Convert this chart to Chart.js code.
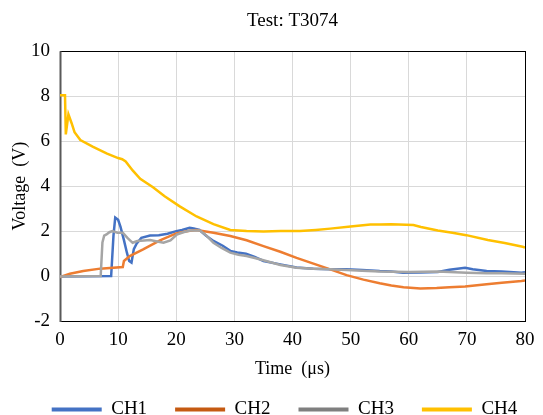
<!DOCTYPE html>
<html>
<head>
<meta charset="utf-8">
<script src="https://cdn.jsdelivr.net/npm/chart.js@4/dist/chart.umd.min.js"></script>
<style>
html,body{margin:0;padding:0;background:#fff;}
#wrap{width:543px;height:415px;position:relative;}
</style>
</head>
<body>
<div id="wrap"><canvas id="c" width="543" height="415"></canvas></div>
<script>
const chartTitle = 'Test: T3074';
const seriesNames = ['CH1', 'CH2', 'CH3', 'CH4'];
const lineColors = ['#4472C4', '#ED7D31', '#A5A5A5', '#FFC000'];
const legendColors = ['#4472C4', '#C55A11', '#7F7F7F', '#FFC000'];

const ch1Time = [0, 8.8, 9.2, 9.5, 10, 10.4, 11, 11.5, 11.9, 12.3, 12.7, 13.2, 14, 15.5, 17, 18.5, 20, 21, 22.3, 23, 24, 25.2, 26.4, 28, 29.3, 30.5, 32, 33.5, 35, 37.9, 40.7, 43.6, 46.5, 49.3, 52, 55, 57, 59, 62, 65, 67, 69.7, 71, 73.4, 76, 79.4, 80];
const ch1Volt = [-0.02, 0, 1.8, 2.6, 2.5, 2.2, 1.6, 1.05, 0.67, 0.6, 1.2, 1.45, 1.7, 1.8, 1.82, 1.88, 2.0, 2.05, 2.15, 2.12, 2.05, 1.78, 1.56, 1.35, 1.12, 1.05, 0.99, 0.85, 0.67, 0.52, 0.38, 0.33, 0.3, 0.3, 0.27, 0.22, 0.2, 0.15, 0.16, 0.18, 0.28, 0.37, 0.3, 0.22, 0.2, 0.15, 0.17];

const ch2Time = [0, 1.7, 4, 6.9, 10.8, 11.0, 12, 14.3, 17.2, 20, 22, 23.5, 26.4, 29.3, 32.1, 35, 37.9, 40.7, 43.6, 46.5, 49.3, 52.2, 55, 57, 59.1, 62, 64.8, 67, 69.7, 73.4, 76, 79.4, 80];
const ch2Volt = [-0.04, 0.1, 0.22, 0.33, 0.4, 0.67, 0.89, 1.19, 1.59, 1.9, 2.0, 2.05, 1.93, 1.78, 1.59, 1.33, 1.08, 0.81, 0.55, 0.3, 0.04, -0.16, -0.32, -0.42, -0.5, -0.55, -0.53, -0.5, -0.47, -0.37, -0.3, -0.22, -0.2];

const ch3Time = [0, 7.0, 7.3, 7.6, 8.0, 8.5, 9.0, 9.9, 10.8, 11.6, 12.5, 13.3, 14.5, 15.5, 16.5, 17.8, 19, 20.1, 21.2, 22.4, 24.1, 25.2, 26.4, 27.8, 29.3, 30.7, 32.1, 33.5, 35, 37.9, 40.7, 43.6, 46.5, 49.3, 52, 55, 60, 65, 70, 73.4, 76, 80];
const ch3Volt = [-0.02, 0, 1.5, 1.8, 1.85, 1.95, 2.0, 1.93, 1.93, 1.7, 1.48, 1.56, 1.58, 1.6, 1.55, 1.48, 1.59, 1.85, 1.95, 2.03, 2.03, 1.8, 1.48, 1.25, 1.04, 0.95, 0.89, 0.8, 0.7, 0.49, 0.37, 0.33, 0.3, 0.27, 0.24, 0.2, 0.18, 0.2, 0.15, 0.12, 0.12, 0.1];

const ch4Time = [0, 0.86, 1.0, 1.45, 2.0, 2.5, 3.5, 5.7, 8.1, 10, 10.7, 11.3, 12.5, 13.8, 16, 18, 20.6, 23.5, 26.4, 29.3, 32.1, 35, 38, 41.3, 44, 46.5, 50, 53.4, 55, 57, 60.8, 62.1, 65, 67.5, 69.9, 73.6, 76.5, 79.6, 80];
const ch4Volt = [8.05, 8.05, 6.3, 7.2, 6.8, 6.4, 6.05, 5.75, 5.45, 5.25, 5.2, 5.1, 4.7, 4.33, 3.95, 3.55, 3.1, 2.65, 2.31, 2.05, 2.0, 1.98, 2.0, 2.0, 2.05, 2.11, 2.2, 2.29, 2.29, 2.3, 2.27, 2.18, 2.03, 1.93, 1.82, 1.6, 1.47, 1.3, 1.27];

const xTickValues = [0, 10, 20, 30, 40, 50, 60, 70, 80];
const yTickValues = [-2, 0, 2, 4, 6, 8, 10];

const times = [ch1Time, ch2Time, ch3Time, ch4Time];
const volts = [ch1Volt, ch2Volt, ch3Volt, ch4Volt];

const FONT = "'Liberation Serif', 'Times New Roman', serif";
Chart.defaults.color = '#000';
Chart.defaults.font.family = FONT;

const datasets = seriesNames.map((name, i) => ({
  label: name,
  data: times[i].map((t, k) => ({x: t, y: volts[i][k]})),
  borderColor: lineColors[i],
  backgroundColor: lineColors[i],
  borderWidth: 2.5,
  pointRadius: 0,
  tension: 0,
  fill: false,
  order: seriesNames.length - i
}));

const framePlugin = {
  id: 'frame',
  afterLayout(chart) {
    const lg = chart.legend;
    if (lg) { lg.left += 22; lg.right += 22; }
  },
  beforeDatasetsDraw(chart) {
    const a = chart.chartArea, ctx = chart.ctx;
    ctx.save();
    ctx.strokeStyle = '#000';
    ctx.lineWidth = 1;
    ctx.strokeRect(Math.round(a.left) + 0.5, Math.round(a.top) + 0.5, Math.round(a.right - a.left), Math.round(a.bottom - a.top));
    ctx.strokeStyle = '#595959';
    ctx.lineWidth = 2;
    ctx.beginPath();
    ctx.moveTo(Math.round(a.left) + 0.5, a.top);
    ctx.lineTo(Math.round(a.left) + 0.5, a.bottom + 1);
    ctx.stroke();
    ctx.restore();
  }
};

new Chart(document.getElementById('c'), {
  type: 'line',
  data: {datasets},
  plugins: [framePlugin],
  options: {
    responsive: false,
    animation: false,
    layout: {padding: {left: 0, right: 18, top: 0, bottom: -14}},
    plugins: {
      title: {
        display: true,
        fullSize: false,
        text: chartTitle,
        font: {family: FONT, size: 19, weight: 'normal'},
        color: '#000',
        padding: {top: 10, bottom: 18.5}
      },
      legend: {
        display: true,
        position: 'bottom',
        labels: {
          boxWidth: 50,
          boxHeight: 4,
          padding: 28,
          font: {family: FONT, size: 19},
          color: '#000',
          generateLabels(chart) {
            return chart.data.datasets.map((ds, i) => ({
              text: ds.label,
              fillStyle: legendColors[i],
              strokeStyle: legendColors[i],
              lineWidth: 0,
              hidden: false,
              datasetIndex: i
            }));
          }
        }
      },
      tooltip: {enabled: false}
    },
    scales: {
      x: {
        type: 'linear',
        min: 0,
        max: 80,
        afterBuildTicks(s) { s.ticks = xTickValues.map(v => ({value: v})); },
        afterFit(s) { s.height = 51; },
        ticks: {font: {family: FONT, size: 19}, color: '#000', padding: 8, maxRotation: 0},
        grid: {color: '#D9D9D9', drawTicks: false},
        border: {display: false},
        title: {display: true, text: 'Time  (μs)', font: {family: FONT, size: 18}, color: '#000', padding: {top: 2, bottom: -8}}
      },
      y: {
        type: 'linear',
        min: -2,
        max: 10,
        afterBuildTicks(s) { s.ticks = yTickValues.map(v => ({value: v})); },
        afterFit(s) { s.width = 60; },
        ticks: {font: {family: FONT, size: 19}, color: '#000', padding: 10},
        grid: {color: '#D9D9D9', drawTicks: false},
        border: {display: false},
        title: {display: true, text: 'Voltage  (V)', font: {family: FONT, size: 18}, color: '#000', padding: {top: 9, bottom: 0}}
      }
    }
  }
});
</script>
</body>
</html>
